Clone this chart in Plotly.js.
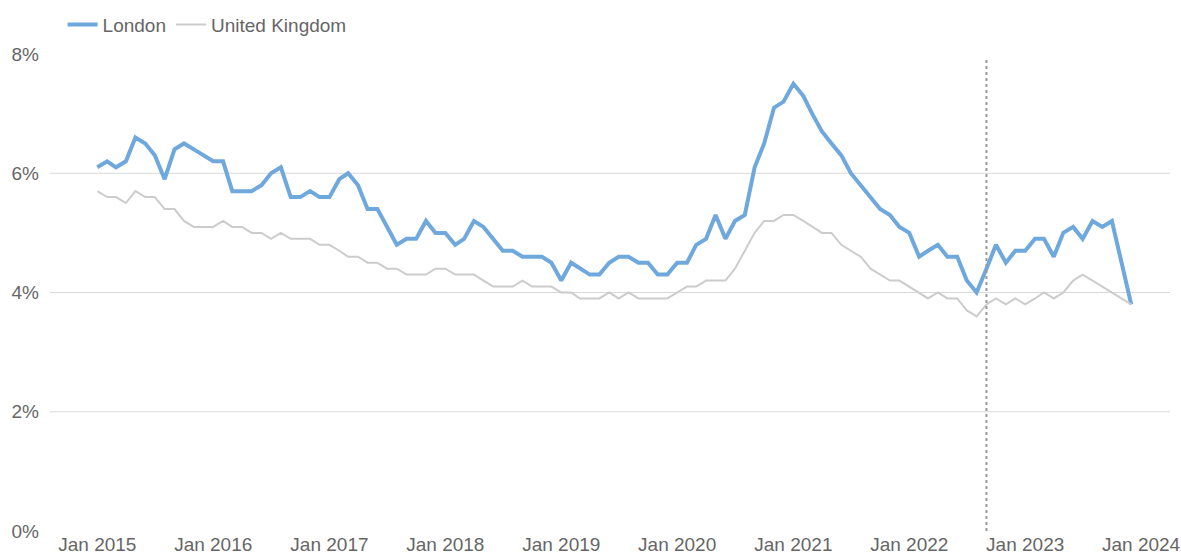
<!DOCTYPE html>
<html>
<head>
<meta charset="utf-8">
<script src="https://cdn.plot.ly/plotly-3.0.1.min.js"></script>
<style>
  html, body { margin: 0; padding: 0; background: #ffffff; }
  #chart { width: 1181px; height: 554px; }
</style>
</head>
<body>
<div id="chart"></div>
<script>
// Unemployment rate (%), monthly, rolling three-month figures
const startYear = 2015;
const endYear = 2023;

const londonRate = [
  // 2015
  6.1, 6.2, 6.1, 6.2, 6.6, 6.5, 6.3, 5.9, 6.4, 6.5, 6.4, 6.3,
  // 2016
  6.2, 6.2, 5.7, 5.7, 5.7, 5.8, 6.0, 6.1, 5.6, 5.6, 5.7, 5.6,
  // 2017
  5.6, 5.9, 6.0, 5.8, 5.4, 5.4, 5.1, 4.8, 4.9, 4.9, 5.2, 5.0,
  // 2018
  5.0, 4.8, 4.9, 5.2, 5.1, 4.9, 4.7, 4.7, 4.6, 4.6, 4.6, 4.5,
  // 2019
  4.2, 4.5, 4.4, 4.3, 4.3, 4.5, 4.6, 4.6, 4.5, 4.5, 4.3, 4.3,
  // 2020
  4.5, 4.5, 4.8, 4.9, 5.3, 4.9, 5.2, 5.3, 6.1, 6.5, 7.1, 7.2,
  // 2021
  7.5, 7.3, 7.0, 6.7, 6.5, 6.3, 6.0, 5.8, 5.6, 5.4, 5.3, 5.1,
  // 2022
  5.0, 4.6, 4.7, 4.8, 4.6, 4.6, 4.2, 4.0, 4.4, 4.8, 4.5, 4.7,
  // 2023 (no November figure)
  4.7, 4.9, 4.9, 4.6, 5.0, 5.1, 4.9, 5.2, 5.1, 5.2, null, 3.8
];

const ukRate = [
  // 2015
  5.7, 5.6, 5.6, 5.5, 5.7, 5.6, 5.6, 5.4, 5.4, 5.2, 5.1, 5.1,
  // 2016
  5.1, 5.2, 5.1, 5.1, 5.0, 5.0, 4.9, 5.0, 4.9, 4.9, 4.9, 4.8,
  // 2017
  4.8, 4.7, 4.6, 4.6, 4.5, 4.5, 4.4, 4.4, 4.3, 4.3, 4.3, 4.4,
  // 2018
  4.4, 4.3, 4.3, 4.3, 4.2, 4.1, 4.1, 4.1, 4.2, 4.1, 4.1, 4.1,
  // 2019
  4.0, 4.0, 3.9, 3.9, 3.9, 4.0, 3.9, 4.0, 3.9, 3.9, 3.9, 3.9,
  // 2020
  4.0, 4.1, 4.1, 4.2, 4.2, 4.2, 4.4, 4.7, 5.0, 5.2, 5.2, 5.3,
  // 2021
  5.3, 5.2, 5.1, 5.0, 5.0, 4.8, 4.7, 4.6, 4.4, 4.3, 4.2, 4.2,
  // 2022
  4.1, 4.0, 3.9, 4.0, 3.9, 3.9, 3.7, 3.6, 3.8, 3.9, 3.8, 3.9,
  // 2023
  3.8, 3.9, 4.0, 3.9, 4.0, 4.2, 4.3, 4.2, 4.1, 4.0, 3.9, 3.8
];

const seriesNames = ['London', 'United Kingdom'];
const yTickValues = [0, 2, 4, 6, 8];
const yTickText = ['0%', '2%', '4%', '6%', '8%'];
const gridValues = [2, 4, 6];
const markerDate = '2022-09-01';

// Month start dates for each observation
const months = [];
for (let y = startYear; y <= endYear; y++) {
  for (let m = 1; m <= 12; m++) {
    months.push(y + '-' + String(m).padStart(2, '0') + '-01');
  }
}

// January tick positions and labels
const xTickValues = [];
const xTickText = [];
for (let y = startYear; y <= endYear + 1; y++) {
  xTickValues.push(y + '-01-01');
  xTickText.push('Jan ' + y);
}

const font = 'Liberation Sans, Arial, sans-serif';
const textColour = '#666666';
const fontSize = 19;

const traces = [
  {
    x: months, y: londonRate, name: seriesNames[0],
    type: 'scatter', mode: 'lines', connectgaps: true,
    line: { color: '#6fa8dc', width: 4 }
  },
  {
    x: months, y: ukRate, name: seriesNames[1],
    type: 'scatter', mode: 'lines',
    line: { color: '#cccccc', width: 2 }
  }
];

const shapes = gridValues.map(v => ({
  type: 'line', xref: 'paper', x0: 0, x1: 1, yref: 'y', y0: v, y1: v,
  line: { color: '#d9d9d9', width: 1 }, layer: 'below'
}));
shapes.push({
  type: 'line', xref: 'x', x0: markerDate, x1: markerDate,
  yref: 'y', y0: 0, y1: 7.95,
  line: { color: '#999999', width: 2, dash: 'dot' }, layer: 'above'
});

const layout = {
  width: 1181, height: 554,
  margin: { l: 50, r: 11, t: 54, b: 23 },
  paper_bgcolor: '#ffffff', plot_bgcolor: '#ffffff',
  font: { family: font, size: fontSize, color: textColour },
  showlegend: true,
  legend: {
    orientation: 'h', xref: 'container', yref: 'container',
    x: 0.053, y: 0.99, xanchor: 'left', yanchor: 'top',
    font: { family: font, size: fontSize, color: textColour },
    itemwidth: 30, tracegroupgap: 0, bgcolor: 'rgba(0,0,0,0)'
  },
  xaxis: {
    type: 'date', range: ['2014-08-05', '2024-04-01'],
    tickmode: 'array', tickvals: xTickValues, ticktext: xTickText,
    ticklabeloverflow: 'allow',
    showgrid: false, zeroline: false, showline: false, ticks: '',
    tickfont: { family: font, size: fontSize, color: textColour }
  },
  yaxis: {
    range: [0, 8], tickmode: 'array', tickvals: yTickValues, ticktext: yTickText,
    showgrid: false, zeroline: false, showline: false,
    ticks: '', ticklabelstandoff: 10,
    tickfont: { family: font, size: fontSize, color: textColour }
  },
  shapes: shapes,
  hovermode: false
};

Plotly.newPlot('chart', traces, layout, { displayModeBar: false, staticPlot: true });
</script>
</body>
</html>
